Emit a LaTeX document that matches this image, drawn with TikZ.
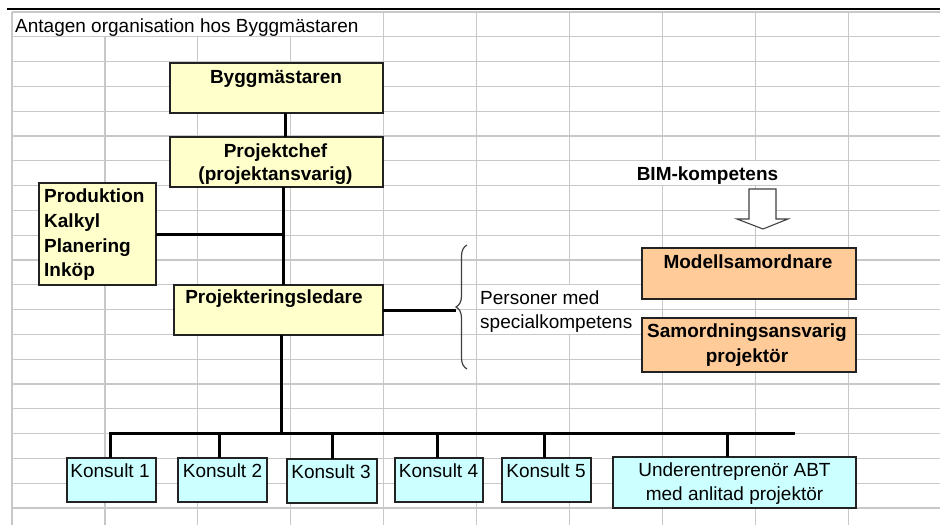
\documentclass[tikz,border=0pt]{standalone}
\usepackage{fontspec}
\setmainfont{Liberation Sans}
\usetikzlibrary{decorations.pathreplacing}
\definecolor{gridgray}{HTML}{C8C8C8}
\definecolor{boxborder}{HTML}{222222}
\definecolor{yellowfill}{HTML}{FFFFCC}
\definecolor{orangefill}{HTML}{FFCC99}
\definecolor{cyanfill}{HTML}{CCFFFF}
\begin{document}
\begin{tikzpicture}[x=1pt,y=-1pt,
  gridline/.style={draw=gridgray, line width=1.2pt},
  box/.style={draw=boxborder, line width=1.2pt, anchor=north west, inner sep=0pt, outer sep=0pt},
  ybox/.style={box, fill=yellowfill},
  obox/.style={box, fill=orangefill},
  cbox/.style={box, fill=cyanfill},
  conn/.style={draw=black, line width=3pt, line join=miter},
  txt/.style={inner sep=0pt, font=\fontsize{19}{22}\selectfont},
  btxt/.style={inner sep=0pt, font=\fontsize{19}{22}\selectfont\bfseries},
]
\useasboundingbox (0,0) rectangle (940,525);
\fill[white] (0,0) rectangle (940,525);
% ---- spreadsheet grid ----
\foreach \k in {0,...,20} \draw[gridline] (12,{12+24.8*\k}) -- (940,{12+24.8*\k});
\draw[gridline] (12,12) -- (12,525);
\foreach \i in {1,2,3} \draw[gridline] ({12+92.9*\i},36.8) -- ({12+92.9*\i},525);
\foreach \i in {4,5,9} \draw[gridline] ({12+92.9*\i},12) -- ({12+92.9*\i},525);
\draw[gridline] (569.4,12) -- (569.4,284.8) (569.4,334.4) -- (569.4,525);
\foreach \i in {7,8} \draw[gridline] ({12+92.9*\i},12) -- ({12+92.9*\i},160.8) ({12+92.9*\i},185.6) -- ({12+92.9*\i},525);
\draw[line width=2.5pt] (7,9) -- (940,9);
% ---- title ----
\node[txt, anchor=base west] (title) at (15,32) {Antagen organisation hos Byggmästaren};
% ---- boxes ----
\node[ybox, minimum width=213pt, minimum height=50pt] (byg) at (170,63) {};
\node[ybox, minimum width=213pt, minimum height=50pt] (pc) at (170,137) {};
\node[ybox, minimum width=117pt, minimum height=102pt] (prod) at (39,183) {};
\node[ybox, minimum width=209pt, minimum height=50pt] (pl) at (174,285) {};
\node[obox, minimum width=214pt, minimum height=51pt] (mod) at (642,248) {};
\node[obox, minimum width=214pt, minimum height=54pt] (sam) at (642,318) {};
\node[cbox, minimum width=89pt, minimum height=44pt] (k1) at (67,458) {};
\node[cbox, minimum width=89pt, minimum height=44pt] (k2) at (178,458) {};
\node[cbox, minimum width=90pt, minimum height=44pt] (k3) at (287,459) {};
\node[cbox, minimum width=88pt, minimum height=44pt] (k4) at (395,458) {};
\node[cbox, minimum width=89pt, minimum height=44pt] (k5) at (502,458) {};
\node[cbox, minimum width=243pt, minimum height=51pt] (ue) at (613,457) {};
% ---- connectors ----
\coordinate (s1) at (285,0);
\coordinate (s2) at (283,0);
\coordinate (s3) at (281,0);
\coordinate (bracetip) at (456,310);
\coordinate (busR) at (795,433);
\draw[conn] (byg.south -| s1) -- (pc.north -| s1);
\draw[conn] (pc.south -| s2) -- (pl.north -| s2);
\draw[conn] (prod.east) -- (prod.east -| s2);
\draw[conn] (pl.east) -- (bracetip);
\draw[conn] (pl.south -| s3) -- (s3 |- busR);
\draw[conn] ([xshift=-1.5pt]k1.north) |- (busR);
\draw[conn] ([xshift=-3pt]k2.north) -- ([xshift=-3pt]k2.north |- busR);
\draw[conn] (k3.north) -- (k3.north |- busR);
\draw[conn] ([xshift=-2pt]k4.north) -- ([xshift=-2pt]k4.north |- busR);
\draw[conn] ([xshift=-2.5pt]k5.north) -- ([xshift=-2.5pt]k5.north |- busR);
\draw[conn] ([xshift=-7.5pt]ue.north) -- ([xshift=-7.5pt]ue.north |- busR);
% ---- brace ----
\draw[draw=black!75, line width=1.2pt, decorate, decoration={brace, amplitude=11pt, aspect=0.5}] (467,369) -- (467,245);
% ---- BIM arrow ----
\draw[draw=black!75, fill=white, line width=1.1pt, line join=miter]
  (749,189) -- (776,189) -- (776,219) -- (788,219) -- (763,229) -- (737,219) -- (749,219) -- cycle;
% ---- texts ----
\node[btxt, anchor=base] (bygT) at (276,83) {Byggmästaren};
\node[btxt, anchor=base] (pcT1) at (275.5,157) {Projektchef};
\node[btxt, anchor=base] (pcT2) at (275.5,180) {(projektansvarig)};
\node[btxt, anchor=base west] (prodT1) at (44,202) {Produktion};
\node[btxt, anchor=base west] (prodT2) at (44,227) {Kalkyl};
\node[btxt, anchor=base west] (prodT3) at (44,252) {Planering};
\node[btxt, anchor=base west] (prodT4) at (44,276) {Inköp};
\node[btxt, anchor=base] (plT) at (274,303) {Projekteringsledare};
\node[txt, anchor=base west] (persT1) at (480,304) {Personer med};
\node[txt, anchor=base west] (persT2) at (480,328) {specialkompetens};
\node[btxt, anchor=base] (bimT) at (707.5,180) {BIM-kompetens};
\node[btxt, anchor=base] (modT) at (748,268) {Modellsamordnare};
\node[btxt, anchor=base] (samT1) at (747,337) {Samordningsansvarig};
\node[btxt, anchor=base] (samT2) at (747,362) {projektör};
\node[txt, anchor=base] (k1T) at (110,477) {Konsult 1};
\node[txt, anchor=base] (k2T) at (222.5,477) {Konsult 2};
\node[txt, anchor=base] (k3T) at (331,478) {Konsult 3};
\node[txt, anchor=base] (k4T) at (438.5,477) {Konsult 4};
\node[txt, anchor=base] (k5T) at (546,477) {Konsult 5};
\node[txt, anchor=base] (ueT1) at (734.5,476) {Underentreprenör ABT};
\node[txt, anchor=base] (ueT2) at (734.5,500) {med anlitad projektör};
\end{tikzpicture}
\end{document}
